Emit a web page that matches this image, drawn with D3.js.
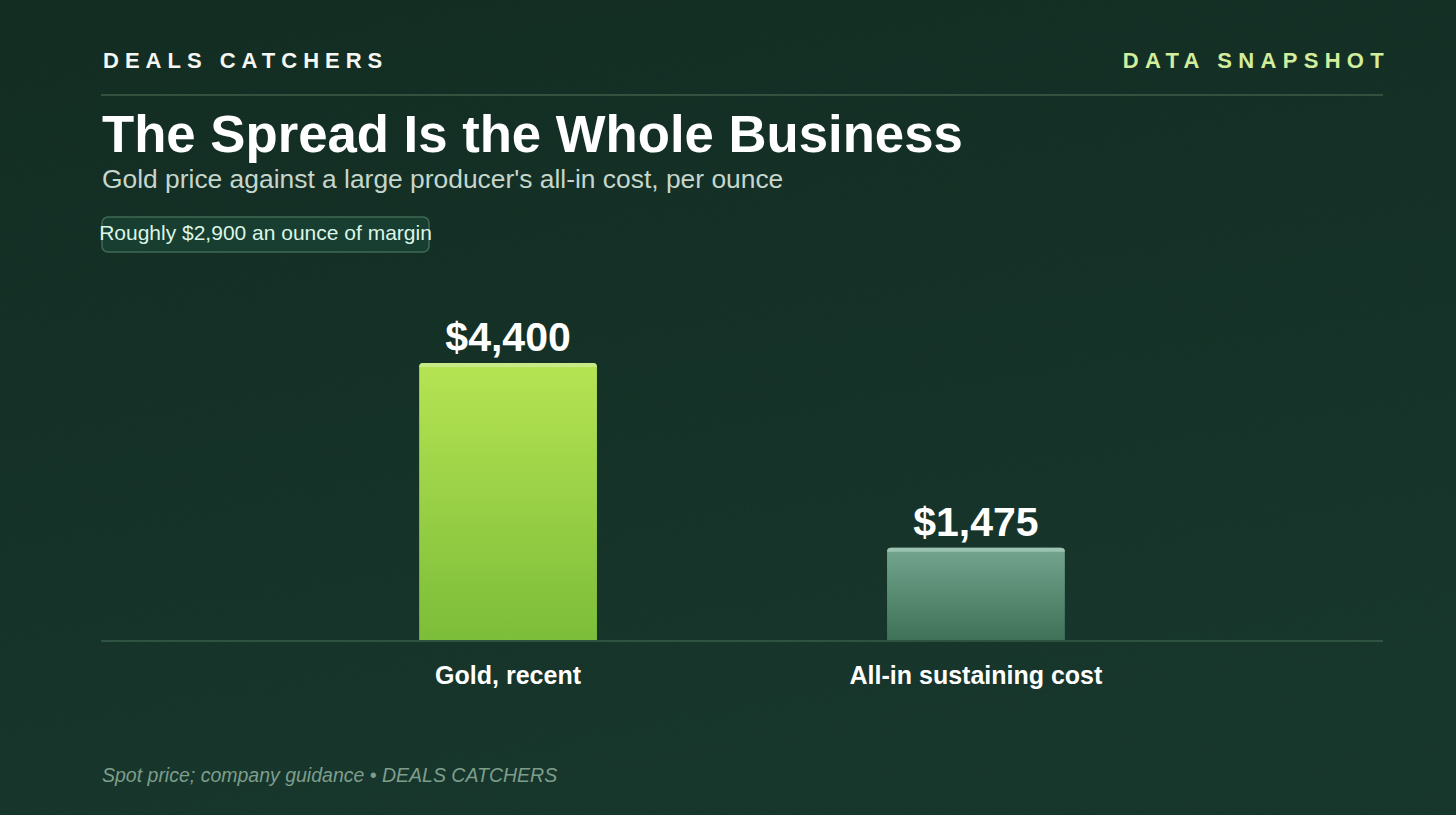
<!DOCTYPE html>
<html>
<head>
<meta charset="utf-8">
<script src="https://cdn.jsdelivr.net/npm/d3@7/dist/d3.min.js"></script>
<style>
  html, body { margin: 0; padding: 0; background: #132c22; }
  svg { display: block; }
</style>
</head>
<body>
<svg id="chart" width="1456" height="815"></svg>
<script>
const categories = ["Gold, recent", "All-in sustaining cost"];
const values = [4400, 1475];
const valueLabels = ["$4,400", "$1,475"];
const brand = "DEALS CATCHERS";
const tag = "DATA SNAPSHOT";
const title = "The Spread Is the Whole Business";
const subtitle = "Gold price against a large producer's all-in cost, per ounce";
const badgeText = "Roughly $2,900 an ounce of margin";
const footer = "Spot price; company guidance \u2022 DEALS CATCHERS";

const W = 1456, H = 815;
const left = 101, right = 1383, baseY = 641;
const svg = d3.select("#chart");
const defs = svg.append("defs");

const bg = defs.append("linearGradient").attr("id", "bg").attr("x1", 0).attr("y1", 0).attr("x2", 0.3).attr("y2", 1);
bg.append("stop").attr("offset", "0%").attr("stop-color", "#112a20");
bg.append("stop").attr("offset", "100%").attr("stop-color", "#16342a");

const noise = defs.append("filter").attr("id", "noise").attr("x", 0).attr("y", 0).attr("width", "100%").attr("height", "100%");
noise.append("feTurbulence").attr("type", "fractalNoise").attr("baseFrequency", 0.9).attr("numOctaves", 2).attr("seed", 3);
noise.append("feColorMatrix").attr("type", "matrix").attr("values", "0 0 0 0 0.1  0 0 0 0 0.25  0 0 0 0 0.18  0 0 0 0.5 0");

const g1 = defs.append("linearGradient").attr("id", "gGold").attr("x1", 0).attr("y1", 0).attr("x2", 0).attr("y2", 1);
g1.append("stop").attr("offset", "0%").attr("stop-color", "#b6e453");
g1.append("stop").attr("offset", "100%").attr("stop-color", "#7cbd39");
const g2 = defs.append("linearGradient").attr("id", "gCost").attr("x1", 0).attr("y1", 0).attr("x2", 0).attr("y2", 1);
g2.append("stop").attr("offset", "0%").attr("stop-color", "#74a58f");
g2.append("stop").attr("offset", "100%").attr("stop-color", "#3e7157");
const fills = ["url(#gGold)", "url(#gCost)"];
const highlights = ["#c7ea86", "#9cc2b1"];

svg.append("rect").attr("width", W).attr("height", H).attr("fill", "url(#bg)");
svg.append("rect").attr("width", W).attr("height", H).attr("filter", "url(#noise)").attr("opacity", 0.12);

const font = "'Liberation Sans', Arial, Helvetica, sans-serif";

// header
svg.append("text").attr("x", 103).attr("y", 68).text(brand)
  .attr("font-family", font).attr("font-weight", "bold").attr("font-size", 22)
  .attr("letter-spacing", 6).attr("fill", "#f4f7f2");
svg.append("text").attr("x", 1390).attr("y", 68).text(tag)
  .attr("text-anchor", "end")
  .attr("font-family", font).attr("font-weight", "bold").attr("font-size", 22)
  .attr("letter-spacing", 6.3).attr("fill", "#d2ee9c");
svg.append("line").attr("x1", left).attr("x2", right).attr("y1", 95).attr("y2", 95)
  .attr("stroke", "#34503f").attr("stroke-width", 2);

svg.append("text").attr("x", 102).attr("y", 152).text(title)
  .attr("font-family", font).attr("font-weight", "bold").attr("font-size", 52.7).attr("fill", "#ffffff");
svg.append("text").attr("x", 102).attr("y", 188).text(subtitle)
  .attr("font-family", font).attr("font-size", 26.4).attr("fill", "#c5d6cc");

// badge
svg.append("rect").attr("x", 102).attr("y", 217).attr("width", 327).attr("height", 35).attr("rx", 6)
  .attr("fill", "#173e30").attr("stroke", "#3f6a55").attr("stroke-width", 1.5);
svg.append("text").attr("x", 265.5).attr("y", 240).attr("text-anchor", "middle").text(badgeText)
  .attr("font-family", font).attr("font-size", 21).attr("fill", "#dcf5e6");

// scales
const x = d3.scaleBand().domain(categories).range([left, right]).paddingInner(0.62).paddingOuter(0.68);
const y = d3.scaleLinear().domain([0, 4400]).range([baseY, 363]);

const data = categories.map((c, i) => ({ c, v: values[i], label: valueLabels[i], i }));

const barG = svg.append("g");
function topRounded(x0, y0, w, h, r) {
  return `M${x0},${y0 + h}V${y0 + r}Q${x0},${y0} ${x0 + r},${y0}H${x0 + w - r}Q${x0 + w},${y0} ${x0 + w},${y0 + r}V${y0 + h}Z`;
}
barG.selectAll("path.bar").data(data).join("path").attr("class", "bar")
  .attr("d", d => topRounded(x(d.c), y(d.v), x.bandwidth(), baseY - y(d.v), 4))
  .attr("fill", d => fills[d.i]);
barG.selectAll("path.hl").data(data).join("path").attr("class", "hl")
  .attr("d", d => topRounded(x(d.c), y(d.v), x.bandwidth(), 4, 4))
  .attr("fill", d => highlights[d.i]);

// baseline
svg.append("line").attr("x1", left).attr("x2", right).attr("y1", baseY).attr("y2", baseY)
  .attr("stroke", "#2f5342").attr("stroke-width", 2);

// value labels
svg.selectAll("text.val").data(data).join("text").attr("class", "val")
  .attr("x", d => x(d.c) + x.bandwidth() / 2).attr("y", d => y(d.v) - 12)
  .attr("text-anchor", "middle").text(d => d.label)
  .attr("font-family", font).attr("font-weight", "bold").attr("font-size", 41).attr("fill", "#ffffff");

// category axis
const axis = svg.append("g").attr("transform", `translate(0,${baseY})`)
  .call(d3.axisBottom(x).tickSize(0).tickPadding(0));
axis.select(".domain").remove();
axis.selectAll("text").attr("y", 43).attr("dy", 0)
  .attr("font-family", font).attr("font-weight", "bold").attr("font-size", 25).attr("fill", "#ffffff");

// footer
svg.append("text").attr("x", 102).attr("y", 782).text(footer)
  .attr("font-family", font).attr("font-style", "italic").attr("font-size", 19.5).attr("fill", "#7e9e8c");
</script>
</body>
</html>
